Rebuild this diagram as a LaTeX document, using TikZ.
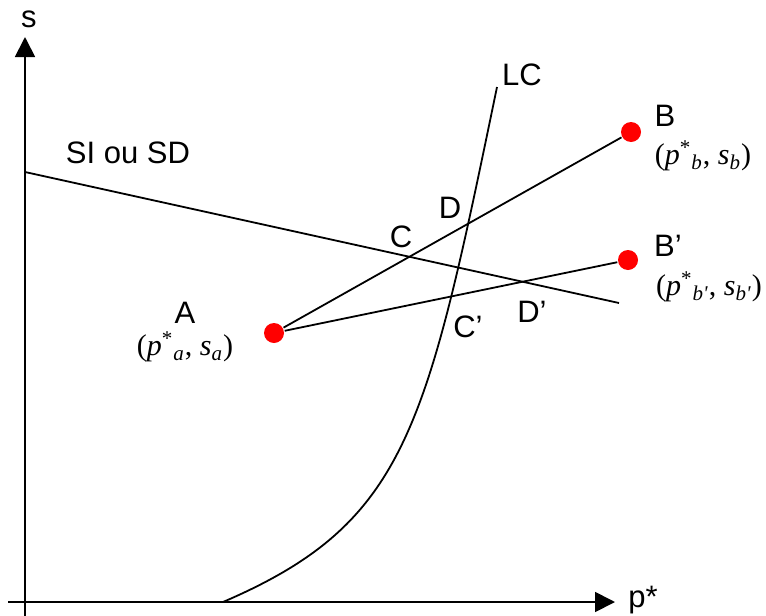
\documentclass[tikz,border=0pt]{standalone}
\usepackage{fontspec}
\setmainfont{Liberation Sans}
\newfontfamily\timesfont{Liberation Serif}
\usetikzlibrary{positioning,arrows.meta}
\newcommand{\ptlabel}[1]{{\timesfont\fontsize{15}{18}\selectfont(\textit{p}\textsuperscript{*}\textsubscript{\textit{#1}}, \textit{s}\textsubscript{\textit{#1}})}}

\tikzset{
  dot/.style={circle,fill=red,inner sep=0pt,minimum size=10pt},
  lbl/.style={font=\fontsize{15.5}{18}\selectfont,inner sep=0pt},
}

\begin{document}
\begin{tikzpicture}[x=0.5pt,y=-0.5pt,>={Triangle[length=10pt,width=10pt]},line width=0.9pt]
\useasboundingbox (0,0) rectangle (766,616);
% axes
\coordinate (ybot) at (25,616);
\coordinate (ytip) at (25,37);
\coordinate (xleft) at (8,602);
\coordinate (xtip) at (615,602);
\draw[->] (ybot) -- (ytip);
\draw[->] (xleft) -- (xtip);
\node[lbl] (s) at (29,19) {s};
\node[lbl] (pstar) at (643,600) {p*};
% SI ou SD
\coordinate (si0) at (25,172);
\coordinate (si1) at (619,303);
\draw (si0) -- (si1);
\node[lbl] (silbl) at (128,153) {SI ou SD};
% LC
\coordinate (lc0) at (223,602);
\coordinate (lc1) at (497,87);
\draw (lc0) .. controls (407,523) and (426,430) .. (lc1);
\node[lbl] (lc) at (522,75) {LC};
% points
\node[dot] (A) at (274,333) {};
\node[dot] (B) at (631,132) {};
\node[dot] (Bp) at (628,260) {};
\draw (A) -- (B);
\draw (A) -- (Bp);
\node[lbl] (Albl) at (185,313) {A};
\node[inner sep=0pt] (Acoord) at (185,347) {\ptlabel{a}};
\node[lbl] (Blbl) at (665,116) {B};
\node[inner sep=0pt] (Bcoord) at (703,156) {\ptlabel{b}};
\node[lbl] (Bplbl) at (668,246) {B'};
\node[inner sep=0pt] (Bpcoord) at (709,287) {\ptlabel{b'}};
% intersections
\node[lbl] (C) at (401,237) {C};
\node[lbl] (D) at (450,208) {D};
\node[lbl] (Cp) at (468,327) {C'};
\node[lbl] (Dp) at (532,312) {D'};
\end{tikzpicture}
\end{document}
